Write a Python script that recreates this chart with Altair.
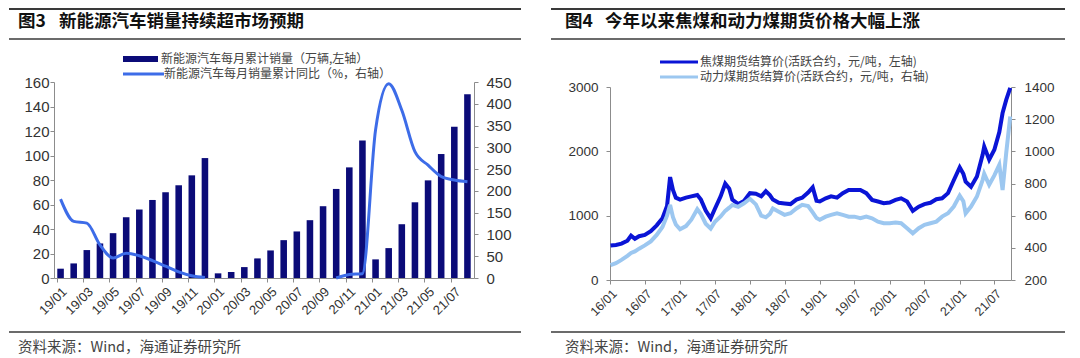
import altair as alt
import pandas as pd

# ---------------- Left panel data (图3) ----------------
months = ["19/01", "19/02", "19/03", "19/04", "19/05", "19/06", "19/07", "19/08",
          "19/09", "19/10", "19/11", "19/12",
          "20/01", "20/02", "20/03", "20/04", "20/05", "20/06", "20/07", "20/08",
          "20/09", "20/10", "20/11", "20/12",
          "21/01", "21/02", "21/03", "21/04", "21/05", "21/06", "21/07", "21/08"]
nev_sales = [7.6, 11.9, 22.8, 28.2, 36.6, 49.6, 55.9, 63.7, 70.0, 75.7, 83.8, 97.9,
             3.8, 4.9, 8.9, 16.0, 22.5, 30.9, 38.0, 47.2, 58.6, 72.7, 90.3, 112.3,
             15.2, 24.4, 43.9, 61.8, 79.7, 101.2, 123.4, 150.0]
nev_yoy = [181, 130, 126, 76, 46, 57, 51, 40, 27, 14, 5, 1,
           None, None, None, None, None, None, None, None, None, 0, 8, 10,
           340, 446, 385, 290, 259, 233, 225, 221]
month_labels = ["19/01", "19/03", "19/05", "19/07", "19/09", "19/11",
                "20/01", "20/03", "20/05", "20/07", "20/09", "20/11",
                "21/01", "21/03", "21/05", "21/07"]

# ---------------- Right panel data (图4) ----------------
coal_dates = ["2016-01-04", "2016-02-01", "2016-03-01", "2016-04-01", "2016-04-20", "2016-05-10",
              "2016-06-01", "2016-07-01", "2016-08-01", "2016-09-01", "2016-10-01", "2016-10-25",
              "2016-11-10", "2016-11-25", "2016-12-10",
              "2017-01-01", "2017-02-01", "2017-03-01", "2017-04-01", "2017-04-20", "2017-05-15",
              "2017-06-10", "2017-07-01", "2017-08-01", "2017-08-25", "2017-09-15", "2017-10-01",
              "2017-11-01", "2017-12-01",
              "2018-01-01", "2018-02-01", "2018-03-01", "2018-03-25", "2018-04-15", "2018-05-01",
              "2018-06-01", "2018-07-01", "2018-08-01", "2018-09-01", "2018-10-01", "2018-11-01",
              "2018-11-25", "2018-12-15",
              "2019-01-01", "2019-02-01", "2019-03-01", "2019-04-01", "2019-05-01", "2019-06-01",
              "2019-07-01", "2019-08-01", "2019-09-01", "2019-10-01", "2019-11-01", "2019-12-01",
              "2020-01-01", "2020-02-01", "2020-03-01", "2020-04-01", "2020-05-01", "2020-06-01",
              "2020-07-01", "2020-08-01", "2020-09-01", "2020-10-01", "2020-11-01", "2020-12-01",
              "2021-01-01", "2021-01-20", "2021-02-01", "2021-03-01", "2021-04-01", "2021-05-01",
              "2021-05-09", "2021-06-04", "2021-07-01", "2021-07-27", "2021-08-13", "2021-09-01",
              "2021-09-22"]
coking_coal = [535, 545, 565, 610, 690, 640, 680, 700, 760, 850, 960, 1150, 1600, 1400, 1280,
               1250, 1280, 1300, 1320, 1250, 1080, 960, 1100, 1300, 1500, 1420, 1250, 1180, 1230,
               1350, 1340, 1300, 1380, 1320, 1250, 1200, 1190, 1180, 1250, 1280, 1360, 1440, 1230,
               1220, 1270, 1300, 1280, 1350, 1400, 1400, 1400, 1350, 1245, 1220, 1195,
               1205, 1245, 1270, 1220, 1075, 1140, 1180, 1200, 1255, 1270, 1350, 1550,
               1750, 1650, 1530, 1450, 1610, 1950, 2075, 1870, 2024, 2300, 2595, 2800, 2985]
thermal_coal = [293, 305, 325, 350, 368, 378, 395, 415, 440, 480, 530, 600, 667, 590, 545,
                515, 535, 575, 640, 610, 550, 520, 560, 595, 630, 650, 667, 655, 677,
                705, 670, 600, 590, 610, 645, 625, 605, 615, 645, 667, 660, 620, 585,
                574, 594, 605, 615, 605, 594, 594, 584, 594, 584, 563, 553,
                553, 557, 553, 522, 490, 522, 543, 553, 563, 594, 615, 657,
                725, 690, 615, 657, 719, 823, 860, 792, 850, 916, 760, 990, 1217]
coal_ticks = [(2016, 1), (2016, 7), (2017, 1), (2017, 7), (2018, 1), (2018, 7),
              (2019, 1), (2019, 7), (2020, 1), (2020, 7), (2021, 1), (2021, 7)]

# ---------------- Styles ----------------
CJK = "Noto Sans CJK SC"
NUM = "Liberation Sans"
TXT = "#333333"
RULE = "#3a3a3a"
AXC = "#8c8c8c"
NAVY = "#0b0b78"
YOYC = "#3d6ce8"
DARK = "#0a14d6"
LIGHT = "#9cc7f0"

dummy = pd.DataFrame({"k": [0]})


def text(x, y, s, size, weight="normal", color=TXT, font=CJK):
    return alt.Chart(dummy).mark_text(
        text=s, align="left", baseline="middle", fontSize=size,
        fontWeight=weight, font=font, color=color
    ).encode(x=alt.value(x), y=alt.value(y))


def hrule(x1, x2, y, w, color=RULE):
    return alt.Chart(dummy).mark_rule(color=color, strokeWidth=w).encode(
        x=alt.value(x1), x2=alt.value(x2), y=alt.value(y))


def rect(x1, x2, y1, y2, color):
    return alt.Chart(dummy).mark_rect(color=color).encode(
        x=alt.value(x1), x2=alt.value(x2), y=alt.value(y1), y2=alt.value(y2))


# ---------------- Left panel ----------------
# both panels share the same top alignment; the left plot area starts 5px higher
W1, H1 = 420, 191
LRANGE = [191, -5]
df_sales = pd.DataFrame({"month": months, "sales": nev_sales})
yoy_m = [m for m, v in zip(months, nev_yoy) if v is not None]
yoy_v = [v for v in nev_yoy if v is not None]
df_yoy = pd.DataFrame({"month": yoy_m, "yoy": yoy_v,
                       "seg": ["a" if m.startswith("19") else "b" for m in yoy_m]})

x_left = alt.X("month:O",
               scale=alt.Scale(domain=months, paddingInner=0.5, paddingOuter=0.25),
               axis=alt.Axis(values=month_labels, bandPosition=0, labelAngle=-45,
                             labelAlign="right", labelBaseline="top", labelFont=NUM,
                             labelFontSize=13, labelColor=TXT, labelPadding=3,
                             tickSize=4, tickColor=AXC, domainColor=AXC,
                             labelOverlap=False, title=None))

bars = alt.Chart(df_sales).mark_bar(color=NAVY).encode(
    x=x_left,
    y=alt.Y("sales:Q", scale=alt.Scale(domain=[0, 160], nice=False, range=LRANGE),
            axis=alt.Axis(orient="left", values=list(range(0, 161, 20)), format="d",
                          labelFont=NUM, labelFontSize=15, labelColor=TXT, labelPadding=1,
                          tickSize=4, tickColor=AXC, domainColor=AXC, title=None)))

yoy_line = alt.Chart(df_yoy).mark_line(color=YOYC, strokeWidth=3, interpolate="monotone").encode(
    x=x_left,
    y=alt.Y("yoy:Q", scale=alt.Scale(domain=[0, 450], nice=False, range=LRANGE),
            axis=alt.Axis(orient="right", values=list(range(0, 451, 50)), format="d",
                          labelFont=NUM, labelFontSize=15, labelColor=TXT, labelPadding=8,
                          tickSize=4, tickColor=AXC, domainColor=AXC, title=None)),
    detail="seg:N")

left_decor = [
    hrule(-45, 467, -78, 2),
    text(-36, -65, "图3", 17.5, "bold", "#111111"),
    text(5, -65, "新能源汽车销量持续超市场预期", 17.5, "bold", "#111111"),
    hrule(-45, 467, -48, 1.3),
    rect(69, 104, -31, -25, NAVY),
    text(107, -28, "新能源汽车每月累计销量（万辆,左轴）", 12, color="#444444"),
    hrule(69, 110, -13, 3, YOYC),
    text(110, -13, "新能源汽车每月销量累计同比（%，右轴）", 12, color="#444444"),
    hrule(-45, 467, 245, 1.3),
    text(-36, 261, "资料来源：Wind，海通证券研究所", 14.5, color="#444444"),
]

left = alt.layer(bars, yoy_line, *left_decor).resolve_scale(y="independent").properties(
    width=W1, height=H1)

# ---------------- Right panel ----------------
W2, H2 = 401, 193
df_coal = pd.DataFrame({"date": coal_dates, "coking": coking_coal, "thermal": thermal_coal})

x_right = alt.X("date:T",
                scale=alt.Scale(domain=[alt.DateTime(year=2016, month=1, date=1),
                                        alt.DateTime(year=2021, month=9, date=26)]),
                axis=alt.Axis(values=[alt.DateTime(year=y, month=m, date=1) for y, m in coal_ticks],
                              format="%y/%m", labelAngle=-45, labelAlign="right",
                              labelBaseline="top", labelFont=NUM, labelFontSize=12.5,
                              labelColor=TXT, labelPadding=3, tickSize=4, tickColor=AXC,
                              domainColor=AXC, labelOverlap=False, title=None))

dark_line = alt.Chart(df_coal).mark_line(color=DARK, strokeWidth=4).encode(
    x=x_right,
    y=alt.Y("coking:Q", scale=alt.Scale(domain=[0, 3000], nice=False),
            axis=alt.Axis(orient="left", values=[0, 1000, 2000, 3000], format="d",
                          labelFont=NUM, labelFontSize=13.5, labelColor=TXT, labelPadding=8,
                          tickSize=4, tickColor=AXC, domainColor=AXC, title=None)))

light_line = alt.Chart(df_coal).mark_line(color=LIGHT, strokeWidth=4).encode(
    x=x_right,
    y=alt.Y("thermal:Q", scale=alt.Scale(domain=[200, 1400], nice=False),
            axis=alt.Axis(orient="right", values=list(range(200, 1401, 200)), format="d",
                          labelFont=NUM, labelFontSize=13.5, labelColor=TXT, labelPadding=9,
                          tickSize=4, tickColor=AXC, domainColor=AXC, title=None)))

right_decor = [
    hrule(-59, 455, -78, 2),
    text(-45, -65, "图4", 17.5, "bold", "#111111"),
    text(-5, -65, "今年以来焦煤和动力煤期货价格大幅上涨", 17.5, "bold", "#111111"),
    hrule(-59, 455, -48, 1.3),
    hrule(50, 88, -25, 3, DARK),
    text(90, -25, "焦煤期货结算价(活跃合约，元/吨，左轴)", 12, color="#444444"),
    hrule(50, 88, -10, 3, LIGHT),
    text(90, -10, "动力煤期货结算价(活跃合约，元/吨，右轴)", 12, color="#444444"),
    hrule(-59, 455, 245, 1.3),
    text(-45, 261, "资料来源：Wind，海通证券研究所", 14.5, color="#444444"),
]

right = alt.layer(dark_line, light_line, *right_decor).resolve_scale(y="independent").properties(
    width=W2, height=H2)

chart = alt.hconcat(left, right, spacing=28).properties(padding=0).configure_view(
    stroke=None).configure_axis(grid=False)

chart.save("out.html", embed_options={"renderer": "svg", "actions": False})
